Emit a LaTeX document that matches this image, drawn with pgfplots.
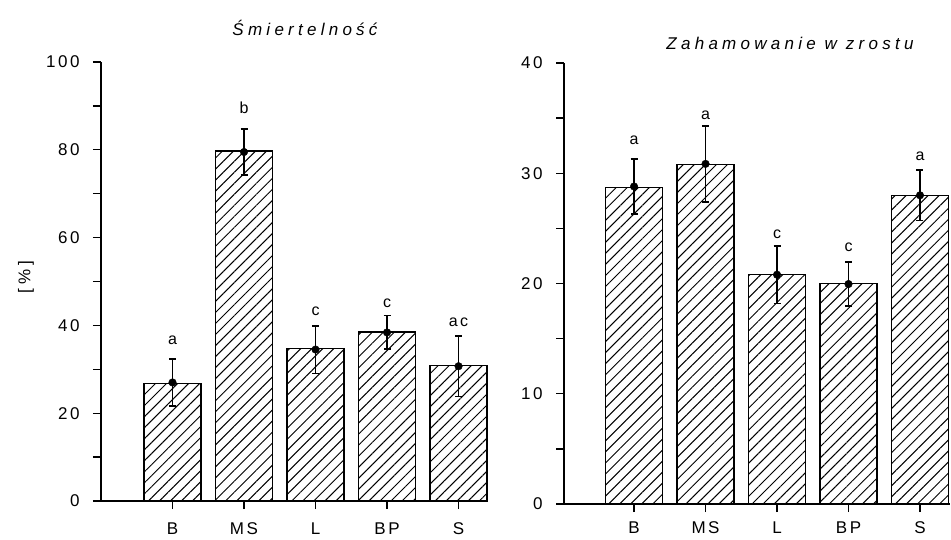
\documentclass[border=0pt]{standalone}
\usepackage{fontspec}
\setmainfont{Liberation Sans}
\newfontfamily\tickfont[LetterSpace=15]{Liberation Sans}
\newfontfamily\titfont[LetterSpace=25]{Liberation Sans}
\usepackage{pgfplots}
\pgfplotsset{compat=1.18}
\usetikzlibrary{patterns.meta}
\tikzset{letter/.style={font=\tickfont\fontsize{16}{18}\selectfont}}
\pgfplotsset{
  myaxis/.style={
    scale only axis, anchor=south west,
    axis lines*=left, axis line style={-, line width=1.6pt},
    tick align=outside, major tick length=8pt, minor tick length=8pt,
    every tick/.style={line width=1.4pt, black},
    ymin=0, xtick={1,2,3,4,5}, xticklabels={B,MS,L,BP,S},
    minor y tick num=1,
    ticklabel style={font=\tickfont\fontsize{17}{19}\selectfont},
    yticklabel style={xshift=-10pt},
    /pgf/number format/assume math mode=true,
    clip=false,
  },
  mybar/.style={ybar, bar width=57pt, draw=black, line width=1.5pt,
    pattern={Lines[angle=45,distance=7.8pt,line width=1pt]}},
  myerr/.style={only marks, black, mark=*, mark size=3.8pt,
    error bars/.cd, y dir=both, y explicit,
    error bar style={line width=1.5pt},
    error mark options={rotate=90, mark size=3.5pt, line width=1.5pt}},
}
\begin{document}
\begin{tikzpicture}[x=1pt,y=1pt]
\path[use as bounding box] (0,0) rectangle (951,539);
% Left panel
\begin{axis}[myaxis, at={(101pt,38pt)}, width=379pt, height=439pt,
  xmin=0, xmax=5.3, ymax=100, ytick={0,20,40,60,80,100},
  xticklabel style={yshift=-10pt}]
\addplot[mybar] coordinates {(1,26.8) (2,79.7) (3,34.7) (4,38.5) (5,30.9)};
\addplot[myerr] coordinates {
  (1,27.0) +- (0,5.4)
  (2,79.5) +- (0,5.2)
  (3,34.5) +- (0,5.4)
  (4,38.4) +- (0,3.8)
  (5,30.7) +- (0,6.9)};
\node[letter] at (axis cs:1,36.7) {a};
\node[letter] at (axis cs:2,89.5) {b};
\node[letter] at (axis cs:3,43.3) {c};
\node[letter] at (axis cs:4,45.1) {c};
\node[letter] at (axis cs:5,40.8) {ac};
\end{axis}
% Right panel
\begin{axis}[myaxis, at={(564pt,35pt)}, width=386pt, height=441pt,
  xmin=0.02, xmax=5.42, ymax=40, ytick={0,10,20,30,40},
  xticklabel style={yshift=-6pt}]
\addplot[mybar] coordinates {(1,28.7) (2,30.8) (3,20.8) (4,20.0) (5,28.0)};
\addplot[myerr] coordinates {
  (1,28.8) +- (0,2.5)
  (2,30.85) +- (0,3.45)
  (3,20.8) +- (0,2.6)
  (4,19.95) +- (0,2.0)
  (5,28.0) +- (0,2.3)};
\node[letter] at (axis cs:1,33.0) {a};
\node[letter] at (axis cs:2,35.3) {a};
\node[letter] at (axis cs:3,24.5) {c};
\node[letter] at (axis cs:4,23.3) {c};
\node[letter] at (axis cs:5,31.5) {a};
\end{axis}
\node[font=\titfont\itshape\fontsize{17}{19}\selectfont] at (305,511) {Śmiertelność};
\node[font=\titfont\itshape\fontsize{17}{19}\selectfont] at (790,496) {Zahamowanie w zrostu};
\node[font=\titfont\fontsize{17}{19}\selectfont, rotate=90] at (26,262) {[\%]};
\end{tikzpicture}
\end{document}
